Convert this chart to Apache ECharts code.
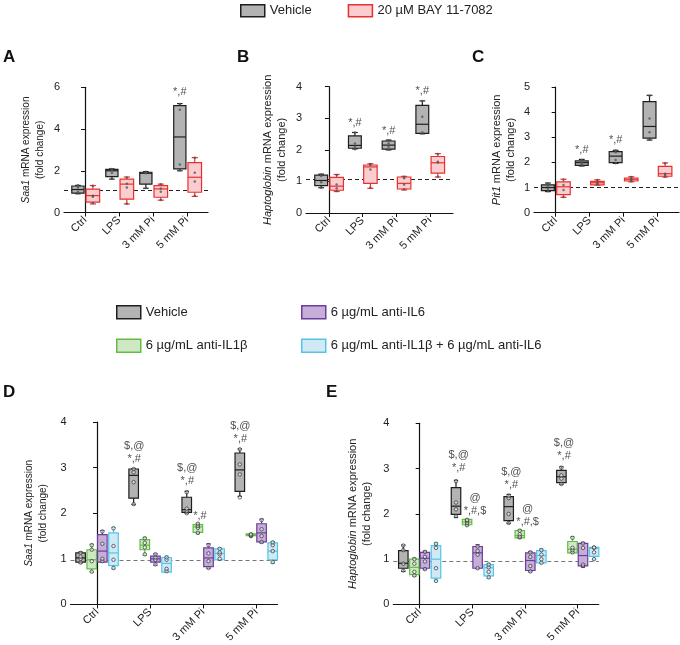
<!DOCTYPE html>
<html><head><meta charset="utf-8">
<script src="https://cdn.jsdelivr.net/npm/echarts@6/dist/echarts.min.js"></script>
<style>html,body{margin:0;padding:0;background:#fff}#c{width:680px;height:645px}</style>
</head><body><div id="c"></div>
<script>
const categories = ['Ctrl', 'LPS', '3 mM Pi', '5 mM Pi'];
// each group: [min, q1, median, q3, max]
const saa1Vehicle   = [[0.9,0.93,1.1,1.27,1.3],[1.6,1.72,2.0,2.07,2.09],[1.16,1.36,1.88,1.93,1.96],[2.0,2.09,3.62,5.12,5.22]];
const saa1Bay       = [[0.41,0.5,0.81,1.12,1.29],[0.41,0.64,1.36,1.6,1.7],[0.59,0.73,1.13,1.29,1.36],[0.77,0.97,1.69,2.39,2.63]];
const haptoVehicle  = [[0.8,0.87,1.03,1.2,1.23],[2.03,2.05,2.14,2.44,2.55],[2.0,2.02,2.15,2.28,2.31],[2.51,2.52,2.81,3.41,3.55]];
const haptoBay      = [[0.68,0.72,0.85,1.13,1.22],[0.78,0.94,1.46,1.52,1.56],[0.73,0.76,0.94,1.14,1.16],[1.14,1.26,1.59,1.79,1.88]];
const pit1Vehicle   = [[0.84,0.88,1.0,1.11,1.18],[1.86,1.88,1.99,2.06,2.12],[1.96,1.99,2.25,2.43,2.48],[2.89,2.97,3.43,4.42,4.67]];
const pit1Bay       = [[0.61,0.72,1.03,1.23,1.33],[1.1,1.11,1.19,1.25,1.31],[1.23,1.26,1.33,1.38,1.43],[1.42,1.45,1.55,1.84,1.98]];
const refA = 1.07, refB = 1.06, refC = 1.0;

// individual points per group
const saa1VehiclePts = [[0.92,1.0,1.2,1.3],[1.62,1.9,2.05,2.08],[1.18,1.88,1.9,1.95],[2.02,2.3,4.93,5.2]];
const saa1BayPts     = [[0.45,0.75,0.8,1.28],[0.42,1.2,1.38,1.68],[0.6,1.0,1.15,1.35],[0.8,1.48,1.9,2.62]];
const haptoVehiclePts= [[0.8,0.97,1.17,1.22],[2.02,2.1,2.2,2.55],[2.0,2.1,2.2,2.3],[2.52,2.55,3.05,3.55]];
const haptoBayPts    = [[0.7,0.78,0.9,1.2],[0.8,1.38,1.52,1.55],[0.75,0.9,1.1,1.15],[1.15,1.6,1.62,1.87]];
const pit1VehiclePts = [[0.85,0.95,1.05,1.15],[1.87,1.93,2.0,2.1],[1.97,2.1,2.4,2.47],[2.9,3.2,3.75,4.65]];
const pit1BayPts     = [[0.62,0.9,1.1,1.32],[1.12,1.15,1.2,1.3],[1.25,1.3,1.35,1.42],[1.43,1.5,1.55,1.97]];

const dSaa1Vehicle  = [[0.91,0.93,1.02,1.13,1.15],[2.19,2.33,2.83,2.97,2.98],[2.0,2.02,2.08,2.35,2.48],[2.37,2.48,2.95,3.32,3.41]];
const dSaa1IL1b     = [[0.71,0.78,0.98,1.2,1.32],[1.08,1.2,1.3,1.42,1.47],[1.55,1.58,1.7,1.75,1.78],[1.49,1.51,1.53,1.55,1.55]];
const dSaa1IL6      = [[0.93,0.93,1.17,1.53,1.62],[0.86,0.93,1.0,1.06,1.11],[0.79,0.83,1.02,1.24,1.33],[1.35,1.37,1.57,1.77,1.87]];
const dSaa1Both     = [[0.78,0.85,1.13,1.57,1.69],[0.71,0.71,0.9,1.03,1.06],[0.98,0.98,1.12,1.22,1.24],[0.9,0.98,1.17,1.35,1.38]];
const eHaptoVehicle = [[0.73,0.8,0.91,1.19,1.31],[1.92,1.99,2.17,2.58,2.74],[1.79,1.85,2.16,2.38,2.43],[2.65,2.69,2.82,2.96,3.04]];
const eHaptoIL1b    = [[0.62,0.66,0.82,1.0,1.03],[1.74,1.76,1.82,1.88,1.88],[1.46,1.47,1.52,1.63,1.65],[1.14,1.14,1.22,1.39,1.5]];
const eHaptoIL6     = [[0.77,0.8,1.02,1.15,1.18],[0.79,0.8,1.14,1.28,1.32],[0.72,0.75,0.97,1.14,1.17],[0.82,0.85,1.08,1.35,1.37]];
const eHaptoBoth    = [[0.52,0.58,1.0,1.3,1.36],[0.58,0.63,0.81,0.88,0.91],[0.91,0.92,1.08,1.19,1.23],[0.99,1.06,1.24,1.26,1.26]];
const refD = 0.98, refE = 0.95;

const dSaa1VehiclePts = [[0.92,1.0,1.05,1.13],[2.2,2.68,2.9,2.97],[2.0,2.05,2.1,2.46],[2.35,2.85,3.07,3.4]];
const dSaa1IL1bPts    = [[0.72,0.95,1.2,1.3],[1.1,1.25,1.35,1.45],[1.57,1.68,1.72,1.77],[1.5,1.51,1.52,1.54]];
const dSaa1IL6Pts     = [[0.95,1.0,1.33,1.6],[0.88,0.98,1.03,1.1],[0.8,0.95,1.12,1.3],[1.37,1.5,1.65,1.85]];
const dSaa1BothPts    = [[0.8,0.98,1.28,1.67],[0.73,0.78,0.98,1.03],[1.0,1.1,1.14,1.22],[0.93,1.17,1.3,1.36]];
const eHaptoVehiclePts= [[0.75,0.9,1.2,1.3],[1.95,2.1,2.25,2.72],[1.8,2.0,2.35,2.4],[2.66,2.78,2.85,3.02]];
const eHaptoIL1bPts   = [[0.64,0.72,0.9,1.0],[1.75,1.8,1.85,1.87],[1.48,1.5,1.55,1.63],[1.15,1.2,1.25,1.47]];
const eHaptoIL6Pts    = [[0.78,0.95,1.05,1.16],[0.8,1.1,1.18,1.28],[0.73,0.85,1.05,1.15],[0.85,0.88,1.25,1.35]];
const eHaptoBothPts   = [[0.52,0.8,1.25,1.34],[0.6,0.72,0.82,0.88],[0.92,1.0,1.1,1.2],[1.0,1.15,1.25,1.26]];

// significance labels: [category, group, y, text]
const annA = [[3,0,5.78,'*,#']];
const annB = [[1,0,2.86,'*,#'],[2,0,2.6,'*,#'],[3,0,3.86,'*,#']];
const annC = [[1,0,2.51,'*,#'],[2,0,2.9,'*,#'],[3,0,5.1,'*,#']];
const annD = [[1,0,3.33,'$,@\n*,#'],[2,0,2.84,'$,@\n*,#'],[2,1,1.93,'*,#'],[3,0,3.78,'$,@\n*,#']];
const annE = [[1,0,3.15,'$,@\n*,#'],[1,1,2.2,'@\n*,#,$'],[2,0,2.79,'$,@\n*,#'],[2,1,1.97,'@\n*,#,$'],[3,0,3.42,'$,@\n*,#']];

const NAMES = {veh:'Vehicle', bay:'20 µM BAY 11-7082', il1b:'6 µg/mL anti-IL1β', il6:'6 µg/mL anti-IL6', both:'6 µg/mL anti-IL1β + 6 µg/mL anti-IL6'};
const STY = {
  veh:{fill:'#b3b3b3', stroke:'#1e1e1e'},
  bay:{fill:'#fbcdd0', stroke:'#e8312f'},
  il1b:{fill:'#cfe8c4', stroke:'#62bd45'},
  il6:{fill:'#c6aed9', stroke:'#6a3d9e'},
  both:{fill:'#cfeaf4', stroke:'#55c4e6'}
};

function boxRender(offset, width, sty){
  return function(params, api){
    const x = api.value(0) + offset;
    const p = [1,2,3,4,5].map(i => api.coord([x, api.value(i)]));
    const w = api.size([width, 0])[0];
    const cx = p[0][0];
    const cap = w * 0.45;
    const ls = {stroke: sty.stroke, lineWidth: 1.2};
    return {type:'group', children:[
      {type:'line', shape:{x1:cx,y1:p[4][1],x2:cx,y2:p[3][1]}, style:ls},
      {type:'line', shape:{x1:cx,y1:p[1][1],x2:cx,y2:p[0][1]}, style:ls},
      {type:'line', shape:{x1:cx-cap/2,y1:p[4][1],x2:cx+cap/2,y2:p[4][1]}, style:ls},
      {type:'line', shape:{x1:cx-cap/2,y1:p[0][1],x2:cx+cap/2,y2:p[0][1]}, style:ls},
      {type:'rect', shape:{x:cx-w/2,y:p[3][1],width:w,height:Math.max(1,p[1][1]-p[3][1])}, style:{fill:sty.fill, stroke:sty.stroke, lineWidth:1.2}},
      {type:'line', shape:{x1:cx-w/2,y1:p[2][1],x2:cx+w/2,y2:p[2][1]}, style:ls}
    ]};
  };
}

const grids = [
  {left:64, top:87.3, width:144, height:125.2},
  {left:306, top:86.7, width:147, height:126.3},
  {left:534, top:87, width:145, height:125.7},
  {left:70.5, top:422, width:207, height:183},
  {left:393.3, top:423.3, width:205.5, height:182.7}
];
const xr = [[-0.62,3.62],[-0.68,3.68],[-0.64,3.64],[-0.5,3.4],[-0.5,3.4]];
const yr = [[0,6,2],[0,4,1],[0,5,1],[0,4,1],[0,4,1]];
const ynames = [
  ['{i|Saa1} mRNA expression\n(fold change)', 10],
  ['{i|Haptoglobin} mRNA expression\n(fold change)', 11],
  ['{i|Pit1} mRNA expression\n(fold change)', 11],
  ['{i|Saa1} mRNA expression\n(fold change)', 10],
  ['{i|Haptoglobin} mRNA expression\n(fold change)', 11]
];
const nameGaps = [17, 17, 16, 20, 19];

const xAxis = grids.map((g,i)=>({
  type:'value', gridIndex:i, min:xr[i][0], max:xr[i][1],
  axisLine:{lineStyle:{color:'#111', width:1.2}},
  axisTick:{show:true, length:4, customValues:[0,1,2,3], lineStyle:{color:'#111'}},
  axisLabel:{customValues:[0,1,2,3], formatter:v=>categories[Math.round(v)], rotate:45, fontSize:11, color:'#222', margin:6, fontFamily:'Arial, Liberation Sans'},
  splitLine:{show:false}
}));
const yAxis = grids.map((g,i)=>({
  type:'value', gridIndex:i, min:yr[i][0], max:yr[i][1], interval:yr[i][2],
  name: ynames[i][0], nameLocation:'middle', nameGap:nameGaps[i],
  nameTextStyle:{fontSize:ynames[i][1], color:'#222', lineHeight:14, fontFamily:'Arial, Liberation Sans',
    rich:{i:{fontStyle:'italic', fontSize:ynames[i][1], color:'#222', fontFamily:'Arial, Liberation Sans'}}},
  axisLine:{show:true, lineStyle:{color:'#111', width:1.2}},
  axisTick:{show:true, length:4, lineStyle:{color:'#111'}},
  axisLabel:{fontSize:11, color:'#222', margin:4, fontFamily:'Arial, Liberation Sans'},
  splitLine:{show:false}
}));

const series = [];
function addBoxes(gi, arr, pts, key, offset, width, open, ref, refColor){
  const s = {
    type:'custom', name:NAMES[key], xAxisIndex:gi, yAxisIndex:gi,
    renderItem: boxRender(offset, width, STY[key]),
    itemStyle:{color:STY[key].fill, borderColor:STY[key].stroke},
    encode:{x:0, y:[1,2,3,4,5]},
    data: arr.map((d,i)=>[i].concat(d)),
    z:3
  };
  if (ref !== undefined) {
    s.markLine = {silent:true, symbol:'none', label:{show:false},
      lineStyle:{type:[4,3], color:refColor, width:1.2}, data:[{yAxis:ref}], z:2};
  }
  series.push(s);
  const pd = [];
  pts.forEach((g,i)=>g.forEach(v=>pd.push([i+offset, v])));
  series.push({
    type:'scatter', xAxisIndex:gi, yAxisIndex:gi, silent:true, z:4,
    symbol:'circle', symbolSize: open ? 3.5 : 2.5,
    itemStyle: open ? {color:'rgba(255,255,255,0.6)', borderColor:'#333', borderWidth:0.9} : {color:'#555'},
    data: pd
  });
}
function addAnn(gi, arr, offsets){
  series.push({
    type:'scatter', xAxisIndex:gi, yAxisIndex:gi, symbolSize:1, silent:true,
    itemStyle:{color:'transparent'}, z:5,
    data: arr.map(a=>[a[0]+offsets[a[1]], a[2], a[3]]),
    label:{show:true, position:'inside', formatter:p=>p.value[2], fontSize:11, color:'#222', lineHeight:13, fontFamily:'Arial, Liberation Sans'}
  });
}
// Panels A-C
const oAC = [-0.21, 0.23];
addBoxes(0, saa1Vehicle, saa1VehiclePts, 'veh', oAC[0], 0.36, false, refA, '#222');
addBoxes(0, saa1Bay, saa1BayPts, 'bay', oAC[1], 0.4, false);
addAnn(0, annA, oAC);
const oB = [-0.23, 0.23];
addBoxes(1, haptoVehicle, haptoVehiclePts, 'veh', oB[0], 0.38, false, refB, '#222');
addBoxes(1, haptoBay, haptoBayPts, 'bay', oB[1], 0.4, false);
addAnn(1, annB, oB);
addBoxes(2, pit1Vehicle, pit1VehiclePts, 'veh', oB[0], 0.38, false, refC, '#222');
addBoxes(2, pit1Bay, pit1BayPts, 'bay', oB[1], 0.4, false);
addAnn(2, annC, oB);
// Panels D-E
const oDE = [-0.31, -0.1, 0.1, 0.31];
const bw = 0.18;
addBoxes(3, dSaa1Vehicle, dSaa1VehiclePts, 'veh', oDE[0], bw, true, refD, '#777');
addBoxes(3, dSaa1IL1b, dSaa1IL1bPts, 'il1b', oDE[1], bw, true);
addBoxes(3, dSaa1IL6, dSaa1IL6Pts, 'il6', oDE[2], bw, true);
addBoxes(3, dSaa1Both, dSaa1BothPts, 'both', oDE[3], bw, true);
addAnn(3, annD, [-0.3, -0.06, 0.1, 0.31]);
addBoxes(4, eHaptoVehicle, eHaptoVehiclePts, 'veh', oDE[0], bw, true, refE, '#777');
addBoxes(4, eHaptoIL1b, eHaptoIL1bPts, 'il1b', oDE[1], bw, true);
addBoxes(4, eHaptoIL6, eHaptoIL6Pts, 'il6', oDE[2], bw, true);
addBoxes(4, eHaptoBoth, eHaptoBothPts, 'both', oDE[3], bw, true);
addAnn(4, annE, [-0.26, 0.05, 0.1, 0.31]);

function legItem(key){ return {name:NAMES[key], icon:'rect', itemStyle:{color:STY[key].fill, borderColor:STY[key].stroke, borderWidth:1.5}}; }
const legText = {fontSize:13, color:'#222', fontFamily:'Arial, Liberation Sans'};
const legend = [
  {left:240, top:4, padding:0, itemWidth:24, itemHeight:12, itemGap:36, selectedMode:false, textStyle:legText, data:[legItem('veh'), legItem('bay')]},
  {left:116, top:305, padding:0, orient:'vertical', itemWidth:24, itemHeight:13, itemGap:19, selectedMode:false, textStyle:legText, data:[legItem('veh'), legItem('il1b')]},
  {left:301, top:305, padding:0, orient:'vertical', itemWidth:24, itemHeight:13, itemGap:19, selectedMode:false, textStyle:legText, data:[legItem('il6'), legItem('both')]}
];

const letterStyle = {fontSize:17, fontWeight:'bold', fill:'#111', fontFamily:'Arial, Liberation Sans'};
const letters = [['A',3,49],['B',237,49],['C',472,49],['D',3,384],['E',326,384]];

const chart = echarts.init(document.getElementById('c'), null, {renderer:'canvas'});
chart.setOption({
  animation:false,
  backgroundColor:'#fff',
  grid: grids,
  xAxis, yAxis, series, legend,
  graphic: letters.map(l=>({type:'text', left:l[1], top:l[2], style:Object.assign({text:l[0]}, letterStyle)}))
});
</script>
</body></html>
